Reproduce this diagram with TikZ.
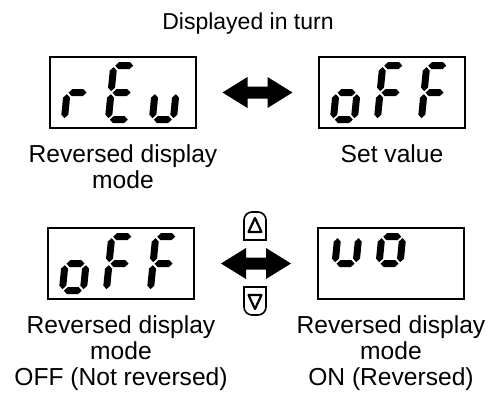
\documentclass[tikz,border=0pt]{standalone}
\usepackage{fontspec}
\setmainfont{Liberation Sans}
\usetikzlibrary{calc}

% one seven-segment character: box node, position, segments
\newcommand{\lcdchar}[3]{%
  \begin{scope}[shift={(#1.south west)}, xshift=15pt+#2*44pt, yshift=9pt, yscale=-1, xslant=-0.1]
    \foreach \s in {#3} {\fill (0,0) [seg \s];}
  \end{scope}}

\begin{document}
\begin{tikzpicture}[x=1pt, y=-1pt]
    \tikzset{lcd/.style={draw=black, line width=1.3pt, minimum width=146pt, minimum height=71pt, inner sep=0pt},
      lbl/.style={align=center, inner sep=0pt, anchor=north, font=\fontsize{24.6}{26}\selectfont},
      key/.style={draw=black, line width=1.6pt},
      tri/.style={draw=black, line width=2.2pt, line join=round},
      hs/.style n args={3}{insert path={(#1,#3) -- (#1+3.5,#3+3.5) -- (#2-3.5,#3+3.5) -- (#2,#3) -- (#2-3.5,#3-3.5) -- (#1+3.5,#3-3.5) -- cycle}},
      vs/.style n args={3}{insert path={(#1,#2) -- (#1+3.5,#2+3.5) -- (#1+3.5,#3-3.5) -- (#1,#3) -- (#1-3.5,#3-3.5) -- (#1-3.5,#2+3.5) -- cycle}},
      seg a/.style={hs={1.5}{19.5}{54}},
      seg b/.style={vs={21}{28.5}{52.5}},
      seg c/.style={vs={21}{1.5}{25.5}},
      seg d/.style={hs={1.5}{19.5}{0}},
      seg e/.style={vs={0}{1.5}{25.5}},
      seg f/.style={vs={0}{28.5}{52.5}},
      seg g/.style={hs={1.5}{19.5}{27}}};
    \useasboundingbox (0,0) rectangle (496,394);
    \node[lbl, anchor=base] (title) at (248,29) {\fontsize{23}{26}\selectfont Displayed in turn};
    \node[lcd] (rev) at (123,92.5) {};
    \node[lcd] (setv) at (392,92.5) {};
    \node[lcd] (off) at (121,263.5) {};
    \node[lcd] (on) at (391,263.5) {};
    \node[lbl] (revtxt) at ([yshift=-16pt]rev.south) {Reversed display\\mode};
    \node[lbl] (setvtxt) at ([yshift=-16pt]setv.south) {Set value};
    \node[lbl] (offtxt) at ([yshift=-16pt]off.south) {Reversed display\\mode\\OFF (Not reversed)};
    \node[lbl] (ontxt) at ([yshift=-16pt]on.south) {Reversed display\\mode\\ON (Reversed)};
    % display contents
    \lcdchar{rev}{0}{e,g}
    \lcdchar{rev}{1}{a,d,e,f,g}
    \lcdchar{rev}{2}{c,d,e}
    \lcdchar{setv}{0}{c,d,e,g}
    \lcdchar{setv}{1}{a,e,f,g}
    \lcdchar{setv}{2}{a,e,f,g}
    \lcdchar{off}{0}{c,d,e,g}
    \lcdchar{off}{1}{a,e,f,g}
    \lcdchar{off}{2}{a,e,f,g}
    \lcdchar{on}{0}{b,f,g}
    \lcdchar{on}{1}{a,b,f,g}
    % arrows and keys
    \coordinate (m1) at ($(rev.east)!0.5!(setv.west)$);
    \coordinate (m2) at ($(off.east)!0.5!(on.west)$);
    \foreach \m in {m1,m2}
      \fill (\m) ++(-35,0) -- ++(25,15.5) -- ++(0,-9.5) -- ++(20,0) -- ++(0,9.5) -- ++(25,-15.5)
        -- ++(-25,-15.5) -- ++(0,9.5) -- ++(-20,0) -- ++(0,-9.5) -- cycle;
    \coordinate (upkey) at ([yshift=37.5pt,xshift=-1pt]m2);
    \coordinate (downkey) at ([yshift=-37.5pt,xshift=-1pt]m2);
    \draw[key] (upkey) ++(-11,14) [rounded corners=8pt] -- ++(0,-28) -- ++(22,0) [sharp corners] -- ++(0,28) -- cycle;
    \draw[tri] (upkey) ++(0,-8) -- ++(6.5,14) -- ++(-13,0) -- cycle;
    \draw[key] (downkey) ++(-11,-14) [rounded corners=8pt] -- ++(0,28) -- ++(22,0) [sharp corners] -- ++(0,-28) -- cycle;
    \draw[tri] (downkey) ++(0,8) -- ++(6.5,-14) -- ++(-13,0) -- cycle;
\end{tikzpicture}
\end{document}
